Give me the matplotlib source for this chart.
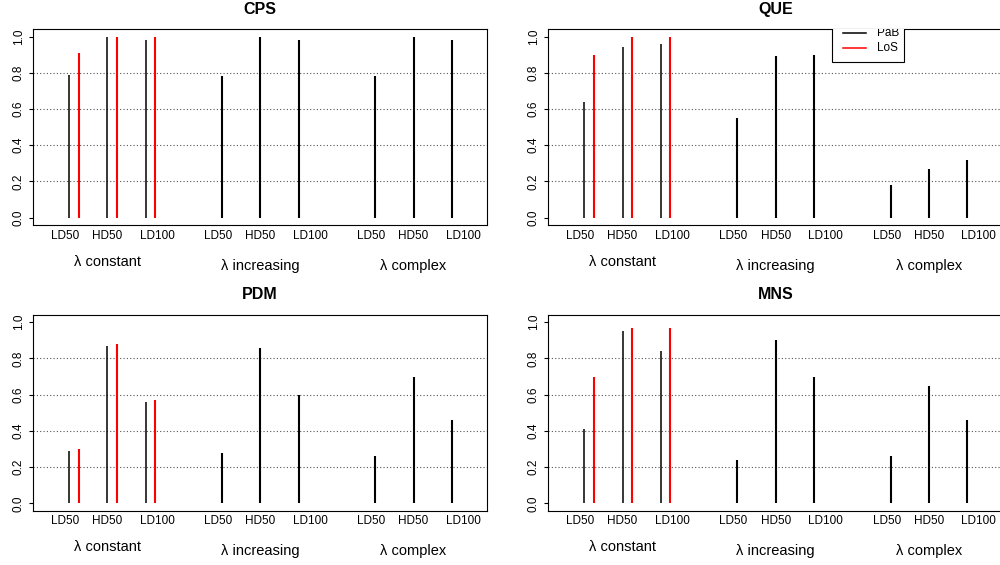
import numpy as np
import matplotlib
matplotlib.use("Agg")
import matplotlib.pyplot as plt
from matplotlib.patches import Rectangle

plt.rcParams["font.family"] = ["Liberation Sans", "DejaVu Sans"]

# 데이터
panel_names = ["CPS", "QUE", "PDM", "MNS"]
conditions = ["LD50", "HD50", "LD100"]
group_names = ["\u03bb constant", "\u03bb increasing", "\u03bb complex"]
legend_names = ["PaB", "LoS"]

# PaB: constant, increasing, complex 순서로 9개
cps_pab = [0.79, 1.00, 0.98, 0.78, 1.00, 0.98, 0.78, 1.00, 0.98]
que_pab = [0.64, 0.94, 0.96, 0.55, 0.89, 0.90, 0.18, 0.27, 0.32]
pdm_pab = [0.29, 0.87, 0.56, 0.28, 0.86, 0.60, 0.26, 0.70, 0.46]
mns_pab = [0.41, 0.95, 0.84, 0.24, 0.90, 0.70, 0.26, 0.65, 0.46]

# LoS: constant 그룹만
cps_los = [0.91, 1.00, 1.00]
que_los = [0.90, 1.00, 1.00]
pdm_los = [0.30, 0.88, 0.57]
mns_los = [0.70, 0.97, 0.97]

pab_values = [cps_pab, que_pab, pdm_pab, mns_pab]
los_values = [cps_los, que_los, pdm_los, mns_los]
yticks = [0.0, 0.2, 0.4, 0.6, 0.8, 1.0]

PX = 0.72  # pixel -> point (dpi 100)

fig = plt.figure(figsize=(10, 5.65), dpi=100)
ax_w, ax_h = 0.454, 0.3464
positions = [(0.033, 0.6018), (0.5483, 0.6018), (0.033, 0.0961), (0.5483, 0.0961)]

label_shift = [-0.1, 0.0, 0.3]

for p, name in enumerate(panel_names):
    ax = fig.add_axes([positions[p][0], positions[p][1], ax_w, ax_h])
    ax.set_xlim(0.06, 11.92)
    ax.set_ylim(-0.04, 1.04)

    # 격자선 (0.2 ~ 0.8)
    for yv in yticks[1:-1]:
        ax.axhline(yv, color="#555555", lw=0.8, linestyle=(0, (1, 2)), zorder=1)

    pab = pab_values[p]
    los = los_values[p]
    for g in range(3):
        for c in range(3):
            x = g * 4 + c + 1
            lw = 1.1 if g == 0 else 1.5
            ax.vlines(x, 0, pab[g * 3 + c], color="black", lw=lw, zorder=2)
    for c in range(3):
        ax.vlines(c + 1 + 0.25, 0, los[c], color="red", lw=1.5, zorder=2)

    # x축 라벨
    ax.set_xticks([])
    for g in range(3):
        for c in range(3):
            x = g * 4 + c + 1 + label_shift[c]
            ax.annotate(conditions[c], xy=(x, 0), xycoords=ax.get_xaxis_transform(),
                        xytext=(0, -10.7 * PX), textcoords="offset points",
                        ha="center", va="center", fontsize=8.5)
        off = -36.7 if g == 0 else -40.7
        ax.annotate(group_names[g], xy=(g * 4 + 2, 0), xycoords=ax.get_xaxis_transform(),
                    xytext=(0, off * PX), textcoords="offset points",
                    ha="center", va="center", fontsize=10.5)

    ax.set_yticks(yticks)
    ax.set_yticklabels(["%.1f" % v for v in yticks], rotation=90, va="center", fontsize=8.5)
    ax.tick_params(axis="y", length=3, width=0.8, pad=3)
    for s in ax.spines.values():
        s.set_linewidth(0.8)

    ax.annotate(name, xy=(0.5, 1), xycoords="axes fraction",
                xytext=(0, 20 * PX), textcoords="offset points",
                ha="center", va="center", fontsize=11.5, fontweight="bold")

    # 범례 (QUE 패널, 위쪽이 잘림)
    if p == 1:
        rect = Rectangle((0.6256, 0.833), 0.158, 0.3, transform=ax.transAxes,
                         facecolor="white", edgecolor="black", lw=0.8,
                         clip_on=True, zorder=3)
        ax.add_patch(rect)
        for i, (lab, col) in enumerate(zip(legend_names, ["black", "red"])):
            ly = [0.98, 0.906][i]
            ax.plot([0.649, 0.699], [ly, ly], transform=ax.transAxes, color=col,
                    lw=1.1, zorder=4, clip_on=True)
            ax.text(0.7234, ly, lab, transform=ax.transAxes, ha="left", va="center",
                    fontsize=8.5, zorder=4, clip_on=True)

fig.savefig("out.png", dpi=100)
